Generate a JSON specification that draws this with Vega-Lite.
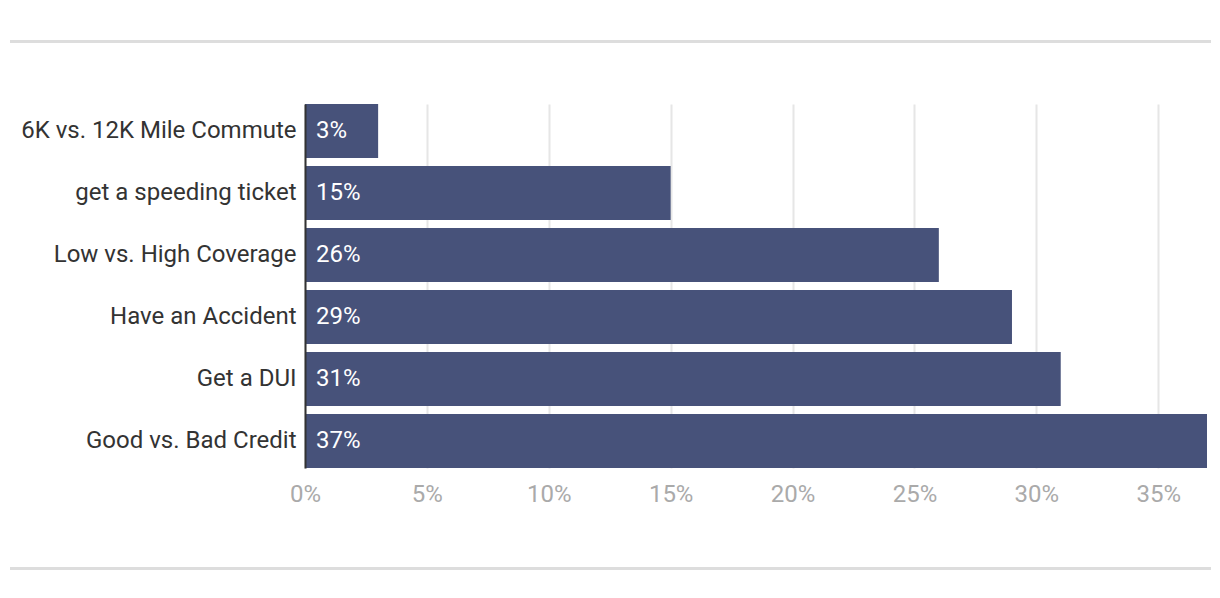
{
  "$schema": "https://vega.github.io/schema/vega-lite/v6.json",
  "padding": {"top": 40, "left": 10, "right": 10, "bottom": 5},
  "background": "white",
  "spacing": 61,
  "align": "none",
  "config": {
    "font": "Roboto",
    "view": {"stroke": null}
  },
  "vconcat": [
    {
      "width": 1199,
      "height": 1,
      "view": {"stroke": "#dddddd", "strokeWidth": 2, "fill": "#dddddd"},
      "data": {"values": []},
      "mark": "point",
      "encoding": {}
    },
    {
      "spacing": 0,
      "hconcat": [
        {
          "width": 1,
          "height": 364,
          "data": {"values": []},
          "mark": "point",
          "encoding": {}
        },
        {
          "width": 902,
          "height": 364,
          "data": {
            "values": [
              {"category": "6K vs. 12K Mile Commute", "value": 0.03},
              {"category": "get a speeding ticket", "value": 0.15},
              {"category": "Low vs. High Coverage", "value": 0.26},
              {"category": "Have an Accident", "value": 0.29},
              {"category": "Get a DUI", "value": 0.31},
              {"category": "Good vs. Bad Credit", "value": 0.37}
            ]
          },
          "encoding": {
            "y": {
              "field": "category",
              "type": "nominal",
              "sort": null,
              "scale": {"paddingInner": 0.13, "paddingOuter": 0},
              "axis": {
                "title": null,
                "labelFontSize": 24,
                "labelColor": "#333333",
                "labelPadding": 9,
                "labelLimit": 400,
                "ticks": false,
                "domain": true,
                "domainColor": "#333333",
                "domainWidth": 2,
                "minExtent": 293,
                "zindex": 2
              }
            }
          },
          "layer": [
            {
              "mark": {"type": "bar", "color": "#47527a"},
              "encoding": {
                "x": {
                  "field": "value",
                  "type": "quantitative",
                  "scale": {"domain": [0, 0.37], "nice": false},
                  "axis": {
                    "title": null,
                    "format": ".0%",
                    "values": [0, 0.05, 0.1, 0.15, 0.2, 0.25, 0.3, 0.35],
                    "labelFontSize": 24,
                    "labelColor": "#aaaaaa",
                    "labelPadding": 14,
                    "labelFlush": false,
                    "minExtent": 37,
                    "ticks": false,
                    "domain": false,
                    "grid": true,
                    "gridColor": "#e6e6e6",
                    "gridWidth": 2
                  }
                }
              }
            },
            {
              "mark": {"type": "text", "align": "left", "baseline": "middle", "dx": 11, "fontSize": 24, "color": "white"},
              "encoding": {
                "x": {"datum": 0, "type": "quantitative"},
                "text": {"field": "value", "type": "quantitative", "format": ".0%"}
              }
            }
          ]
        }
      ]
    },
    {
      "width": 1199,
      "height": 1,
      "view": {"stroke": "#dddddd", "strokeWidth": 2, "fill": "#dddddd"},
      "data": {"values": []},
      "mark": "point",
      "encoding": {}
    }
  ]
}
